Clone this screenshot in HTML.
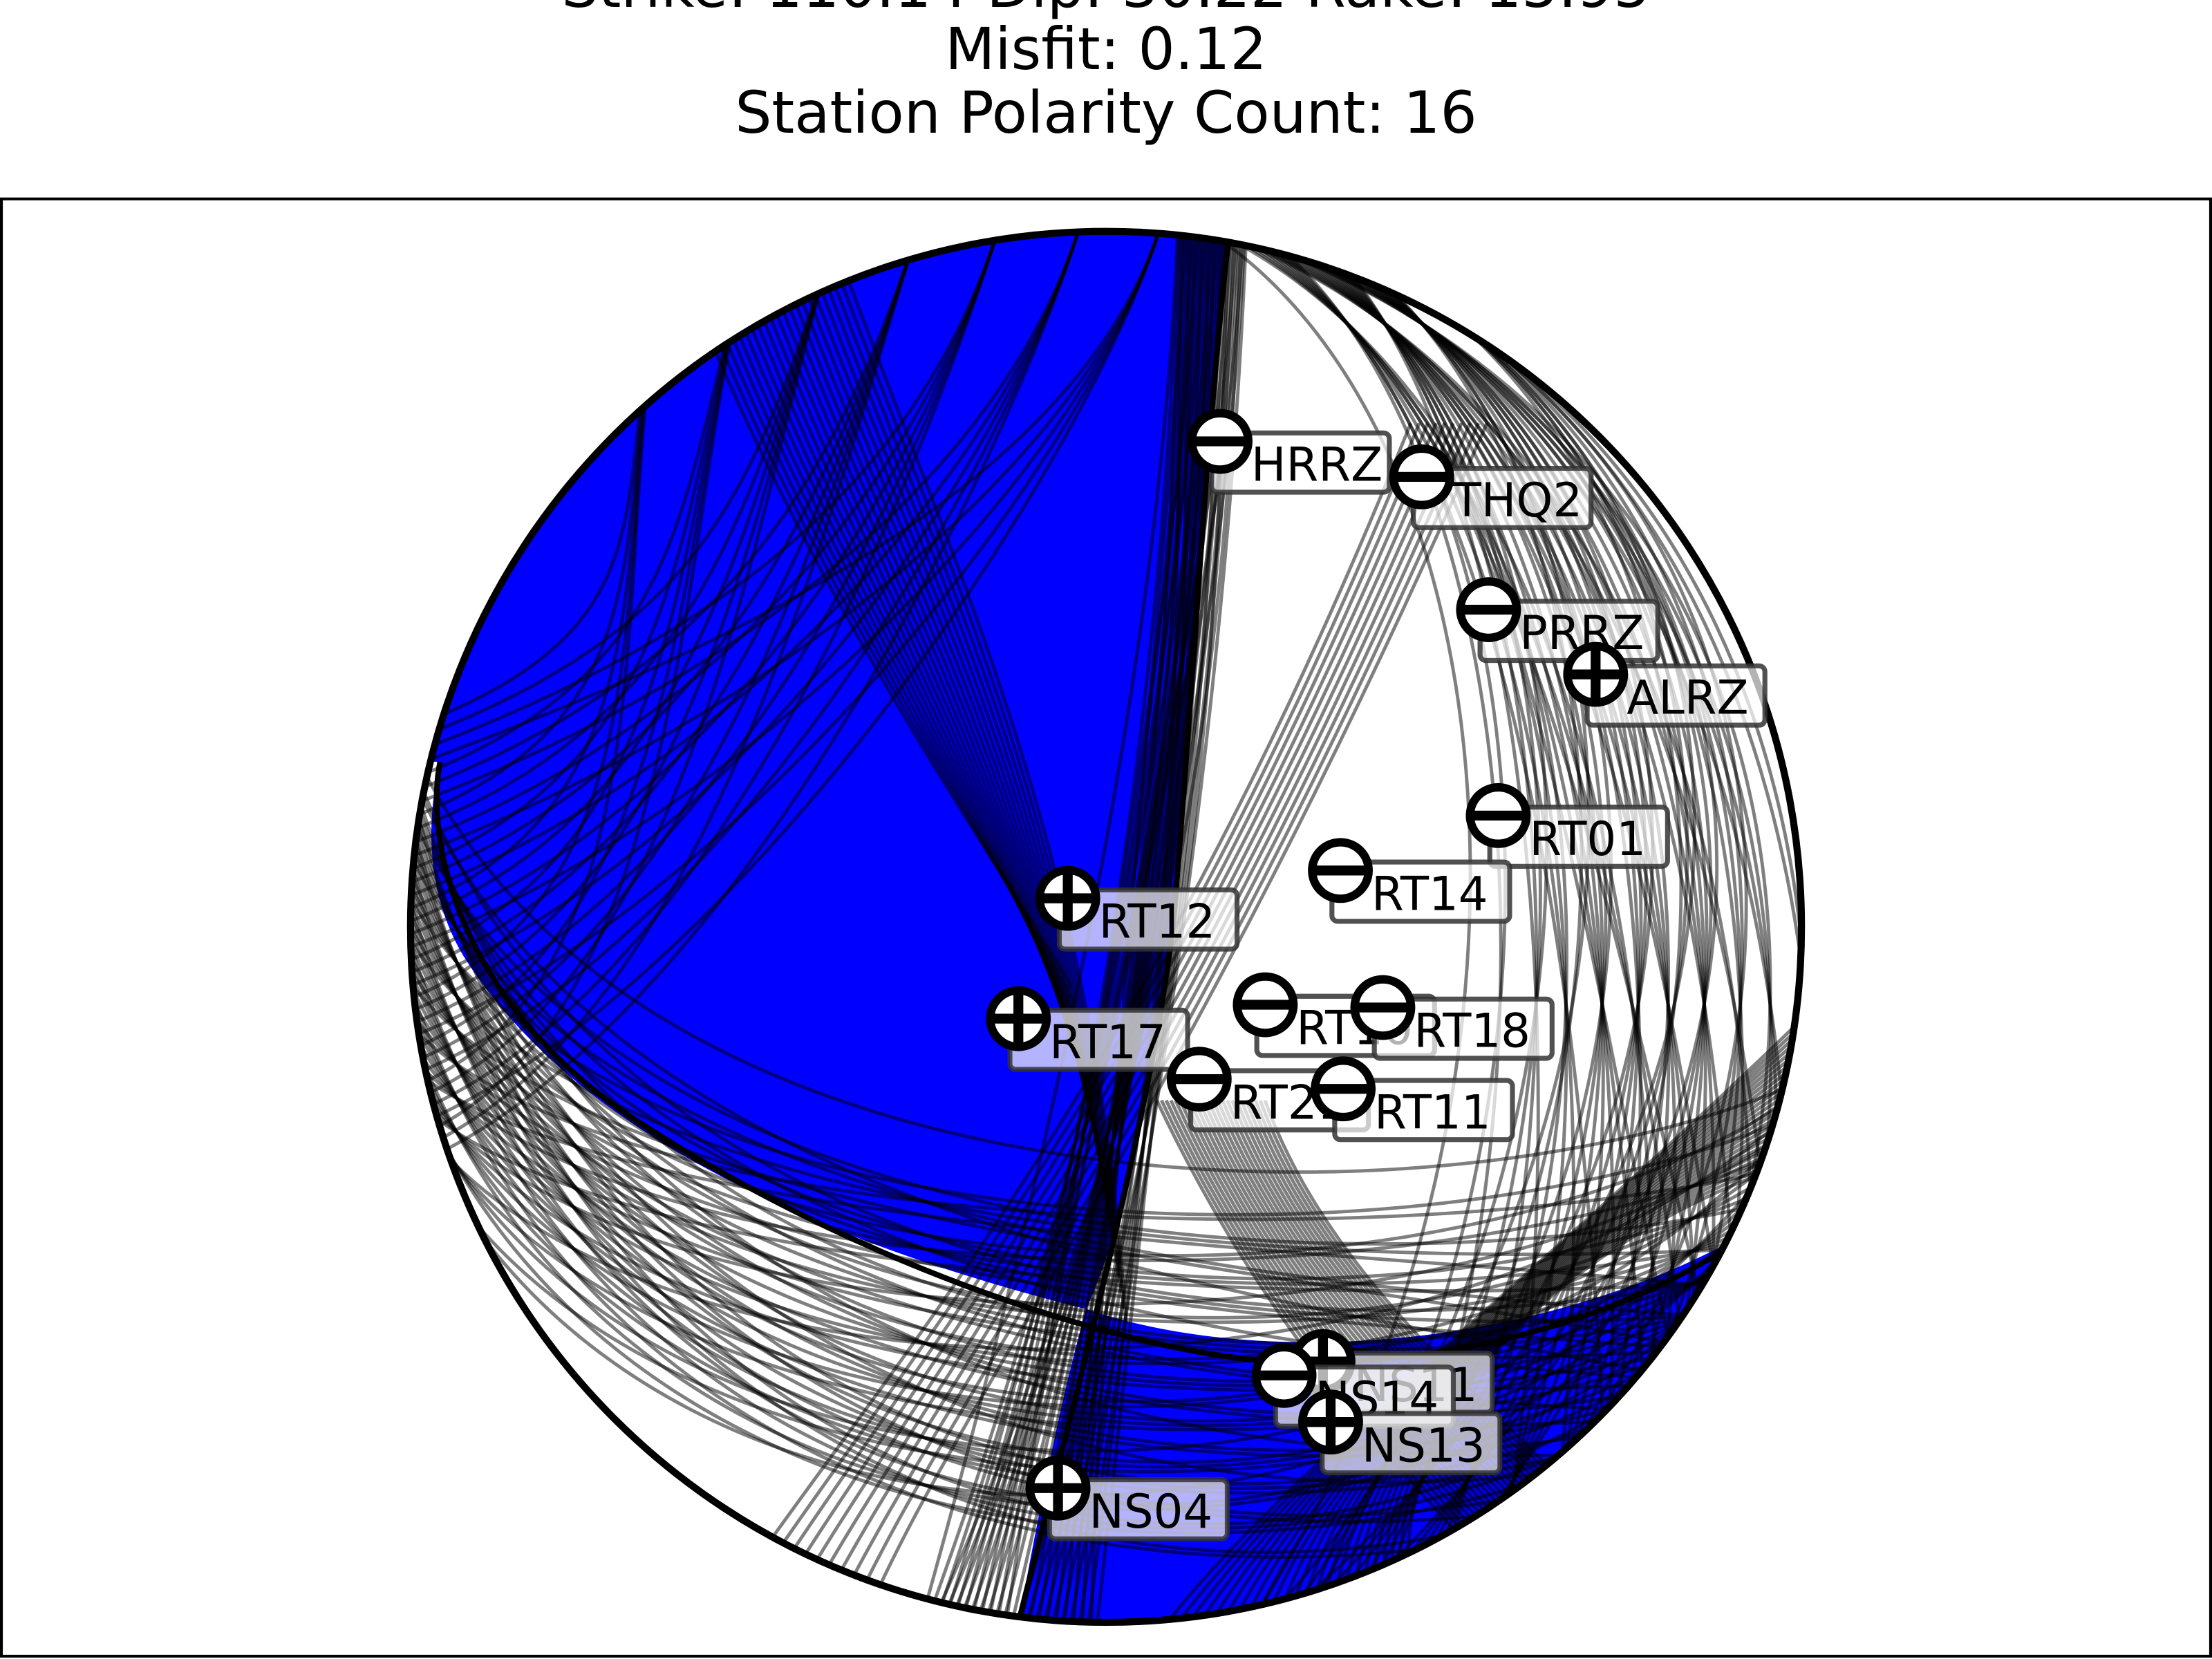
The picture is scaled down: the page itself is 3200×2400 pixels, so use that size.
<!DOCTYPE html>
<html><head><meta charset="utf-8"><style>html,body{margin:0;padding:0;background:#fff;width:3200px;height:2400px;overflow:hidden}svg{display:block}</style></head>
<body>
<svg id="chart" width="3200" height="2400" viewBox="0 0 1568 1176" xmlns="http://www.w3.org/2000/svg" font-family="'DejaVu Sans','Liberation Sans',sans-serif">
<g font-size="41" text-anchor="middle" fill="#000">
<text x="784" y="5">Strike: 110.14  Dip: 30.22  Rake: 15.95</text>
<text x="784" y="49">Misfit: 0.12</text>
<text x="784" y="94">Station Polarity Count: 16</text>
</g>
<rect x="1" y="141" width="1566" height="1033" fill="none" stroke="#000" stroke-width="2"/>
<defs><clipPath id="ballclip"><circle cx="784" cy="657" r="493"/></clipPath></defs>
<g clip-path="url(#ballclip)">
<path fill="#0000ff" d="M872,100 L872,165 C855,300 845,500 832,650 C820,760 800,860 770,928 C620,890 420,820 330,680 C305,640 300,590 312,540 L100,540 L100,100 Z"/>
<path fill="#0000ff" d="M770,928 C900,972 1100,955 1245,870 L1400,870 L1400,1300 L700,1300 L722,1150 C735,1080 752,990 770,928 Z"/>
<g id="arcs" fill="none" stroke="#000" stroke-opacity="0.5" stroke-width="2.4"></g>
<path fill="none" stroke="#000" stroke-width="4" d="M872,160 C855,300 845,500 832,650 C818,780 770,960 722,1150"/>
<path fill="none" stroke="#000" stroke-width="4" d="M312,540 C300,600 330,720 460,800 C600,890 780,955 900,965 C1050,972 1180,920 1245,870"/>
</g>
<circle cx="784" cy="657" r="493" fill="none" stroke="#000" stroke-width="5"/>
<g id="stations"></g>
</svg>
<script>
const stationNames=["HRRZ","THQ2","PRRZ","ALRZ","RT01","RT14","RT12","RT17","RT10","RT18","RT21","RT11","NS14","NS11","NS13","NS04"];
const stationU=[0.164,0.454,0.550,0.704,0.564,0.337,-0.055,-0.126,0.229,0.398,0.134,0.341,0.256,0.312,0.323,-0.069];
const stationV=[0.698,0.647,0.456,0.363,0.160,0.081,0.041,-0.132,-0.112,-0.116,-0.219,-0.233,-0.645,-0.625,-0.712,-0.807];
const stationPolarity=[-1,-1,-1,1,-1,-1,1,1,-1,-1,-1,-1,-1,1,1,1];
const CX=784,CY=657,R=493,NS="http://www.w3.org/2000/svg";
function sx(u){return CX+R*u;}
function sy(v){return CY-R*v;}
const arcs=document.getElementById('arcs');
function addArc(d){const p=document.createElementNS(NS,'path');p.setAttribute('d',d);


arcs.appendChild(p);}
function f(i,k,n){return ((i*k)%n)/n;}
for(let i=0;i<40;i++){const a=835+f(i,37,40)*50,b=650+f(i,13,40)*130,c=780+f(i,7,40)*90;
addArc(`M${a},160 C${a-10},400 ${c},700 ${b},1160`);}
for(let i=0;i<60;i++){const y0=500+f(i,19,60)*280,y1=760+f(i,11,60)*260,cy=880+f(i,23,60)*320;
addArc(`M280,${y0} C420,${cy} 1050,${cy} 1290,${y1}`);}
for(let i=0;i<55;i++){const x0=850+f(i,17,55)*80,x1=880+f(i,29,55)*400,bx=1080+f(i,7,55)*240;
addArc(`M${x0},160 C${bx},300 ${bx+40},800 ${x1},1160`);}
for(let i=0;i<35;i++){const x0=480+f(i,5,35)*400;const y1=520+f(i,11,35)*320;
addArc(`M${x0},160 C${x0-60},350 ${500},${y1-80} 280,${y1}`);}
for(let i=0;i<22;i++){const t=f(i,5,22);const x0=480+t*120;
addArc(`M${x0},180 C${x0+80},400 ${700+t*80},600 ${760+t*40},${700+t*250}`);}
for(let i=0;i<24;i++){const t=f(i,7,24);
addArc(`M${820+t*80},780 C${900+t*60},950 ${1000+t*150},1050 ${1100+t*100},1160`);
addArc(`M${1300},${700+t*120} C${1120-t*50},880 ${900+t*60},1050 ${820+t*200},1160`);}
for(let i=0;i<10;i++){const t=f(i,3,10);
addArc(`M${500+t*120},1160 C${600+t*80},1000 ${800+t*40},800 ${1000+t*60},300`);}
const st=document.getElementById('stations');
const order=[0,1,2,3,4,5,6,7,8,9,10,11,13,12,14,15];
order.forEach(i=>{
const x=sx(stationU[i]),y=sy(stationV[i]);
const g=document.createElementNS(NS,'g');


const w=stationNames[i].length*24+14;
const box=document.createElementNS(NS,'rect');
box.setAttribute('x',x-6);box.setAttribute('y',y-6);box.setAttribute('width',w+16);box.setAttribute('height',42);
box.setAttribute('rx',4);box.setAttribute('fill','#fff');box.setAttribute('fill-opacity','0.7');
box.setAttribute('stroke','#333');box.setAttribute('stroke-opacity','0.85');box.setAttribute('stroke-width','3.5');


g.appendChild(box);
const tx=document.createElementNS(NS,'text');
tx.setAttribute('x',x+22);tx.setAttribute('y',y+28);tx.setAttribute('font-size','33');
tx.textContent=stationNames[i];


g.appendChild(tx);
const c=document.createElementNS(NS,'circle');
c.setAttribute('cx',x);c.setAttribute('cy',y);c.setAttribute('r',20);c.setAttribute('fill','#fff');c.setAttribute('stroke','#000');c.setAttribute('stroke-width','6');


g.appendChild(c);
const h=document.createElementNS(NS,'line');
h.setAttribute('x1',x-20);h.setAttribute('x2',x+20);h.setAttribute('y1',y);h.setAttribute('y2',y);h.setAttribute('stroke','#000');h.setAttribute('stroke-width','7');


g.appendChild(h);
if(stationPolarity[i]>0){const v=document.createElementNS(NS,'line');
v.setAttribute('x1',x);v.setAttribute('x2',x);v.setAttribute('y1',y-20);v.setAttribute('y2',y+20);v.setAttribute('stroke','#000');v.setAttribute('stroke-width','7');


g.appendChild(v);}
st.appendChild(g);
});
</script>
</body></html>
